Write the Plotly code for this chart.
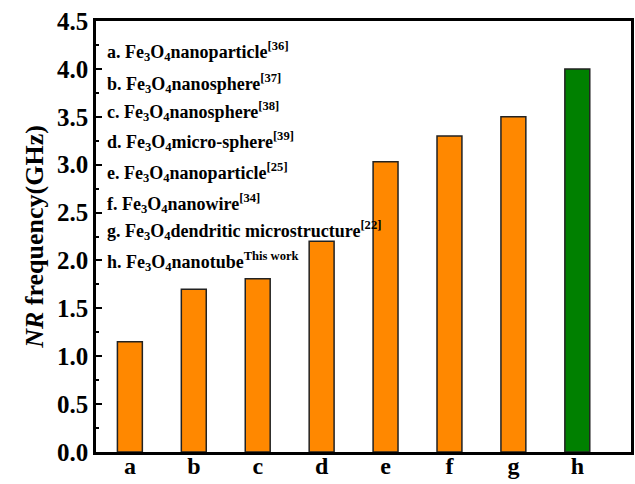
import plotly.graph_objects as go

categories = ["a", "b", "c", "d", "e", "f", "g", "h"]
values = [1.15, 1.70, 1.81, 2.20, 3.03, 3.30, 3.50, 4.00]
colors = ["#FF8800"] * 7 + ["#008000"]
legend_lines = [
    "a. Fe<sub>3</sub>O<sub>4</sub>nanoparticle<sup>[36]</sup>",
    "b. Fe<sub>3</sub>O<sub>4</sub>nanosphere<sup>[37]</sup>",
    "c. Fe<sub>3</sub>O<sub>4</sub>nanosphere<sup>[38]</sup>",
    "d. Fe<sub>3</sub>O<sub>4</sub>micro-sphere<sup>[39]</sup>",
    "e. Fe<sub>3</sub>O<sub>4</sub>nanoparticle<sup>[25]</sup>",
    "f. Fe<sub>3</sub>O<sub>4</sub>nanowire<sup>[34]</sup>",
    "g. Fe<sub>3</sub>O<sub>4</sub>dendritic microstructure<sup>[22]</sup>",
    "h. Fe<sub>3</sub>O<sub>4</sub>nanotube<sup>This work</sup>",
]
legend_y = [4.18, 3.85, 3.55, 3.24, 2.92, 2.59, 2.31, 1.99]

font_family = "Liberation Serif, Times New Roman, serif"

fig = go.Figure(go.Bar(
    x=categories, y=values,
    marker=dict(color=colors, line=dict(color="#222222", width=1.5)),
    width=0.39,
))

for txt, yy in zip(legend_lines, legend_y):
    fig.add_annotation(
        x=0, xref="paper", xshift=9, y=yy, yref="y",
        text="<b>" + txt + "</b>", showarrow=False,
        xanchor="left", yanchor="middle",
        font=dict(family=font_family, size=18, color="black"),
    )

fig.update_layout(
    width=635, height=484,
    margin=dict(l=96, r=4, t=21, b=32),
    plot_bgcolor="white", paper_bgcolor="white",
    showlegend=False,
    font=dict(family=font_family, color="black"),
    xaxis=dict(
        range=[-0.53, 7.84], showgrid=False, zeroline=False, automargin=False,
        showline=True, linecolor="black", linewidth=2.5, mirror=True,
        ticks="", ticklabelstandoff=-10, tickfont=dict(family=font_family, size=24),
        tickprefix="<b>", ticksuffix="</b>",
    ),
    yaxis=dict(
        range=[0, 4.5], dtick=0.5, tickformat=".1f", showgrid=False, zeroline=False,
        automargin=False,
        showline=True, linecolor="black", linewidth=2.5, mirror=True,
        ticks="inside", ticklen=6, tickwidth=2, tickcolor="black",
        minor=dict(ticks="inside", ticklen=3, tickwidth=1.5, tickcolor="black", dtick=0.25),
        tickfont=dict(family=font_family, size=25),
        tickprefix="<b>", ticksuffix="</b>",
        title=dict(text="<b><i>NR</i> frequency(GHz)</b>", font=dict(family=font_family, size=26), standoff=6),
    ),
)

fig.write_html("out.html")
